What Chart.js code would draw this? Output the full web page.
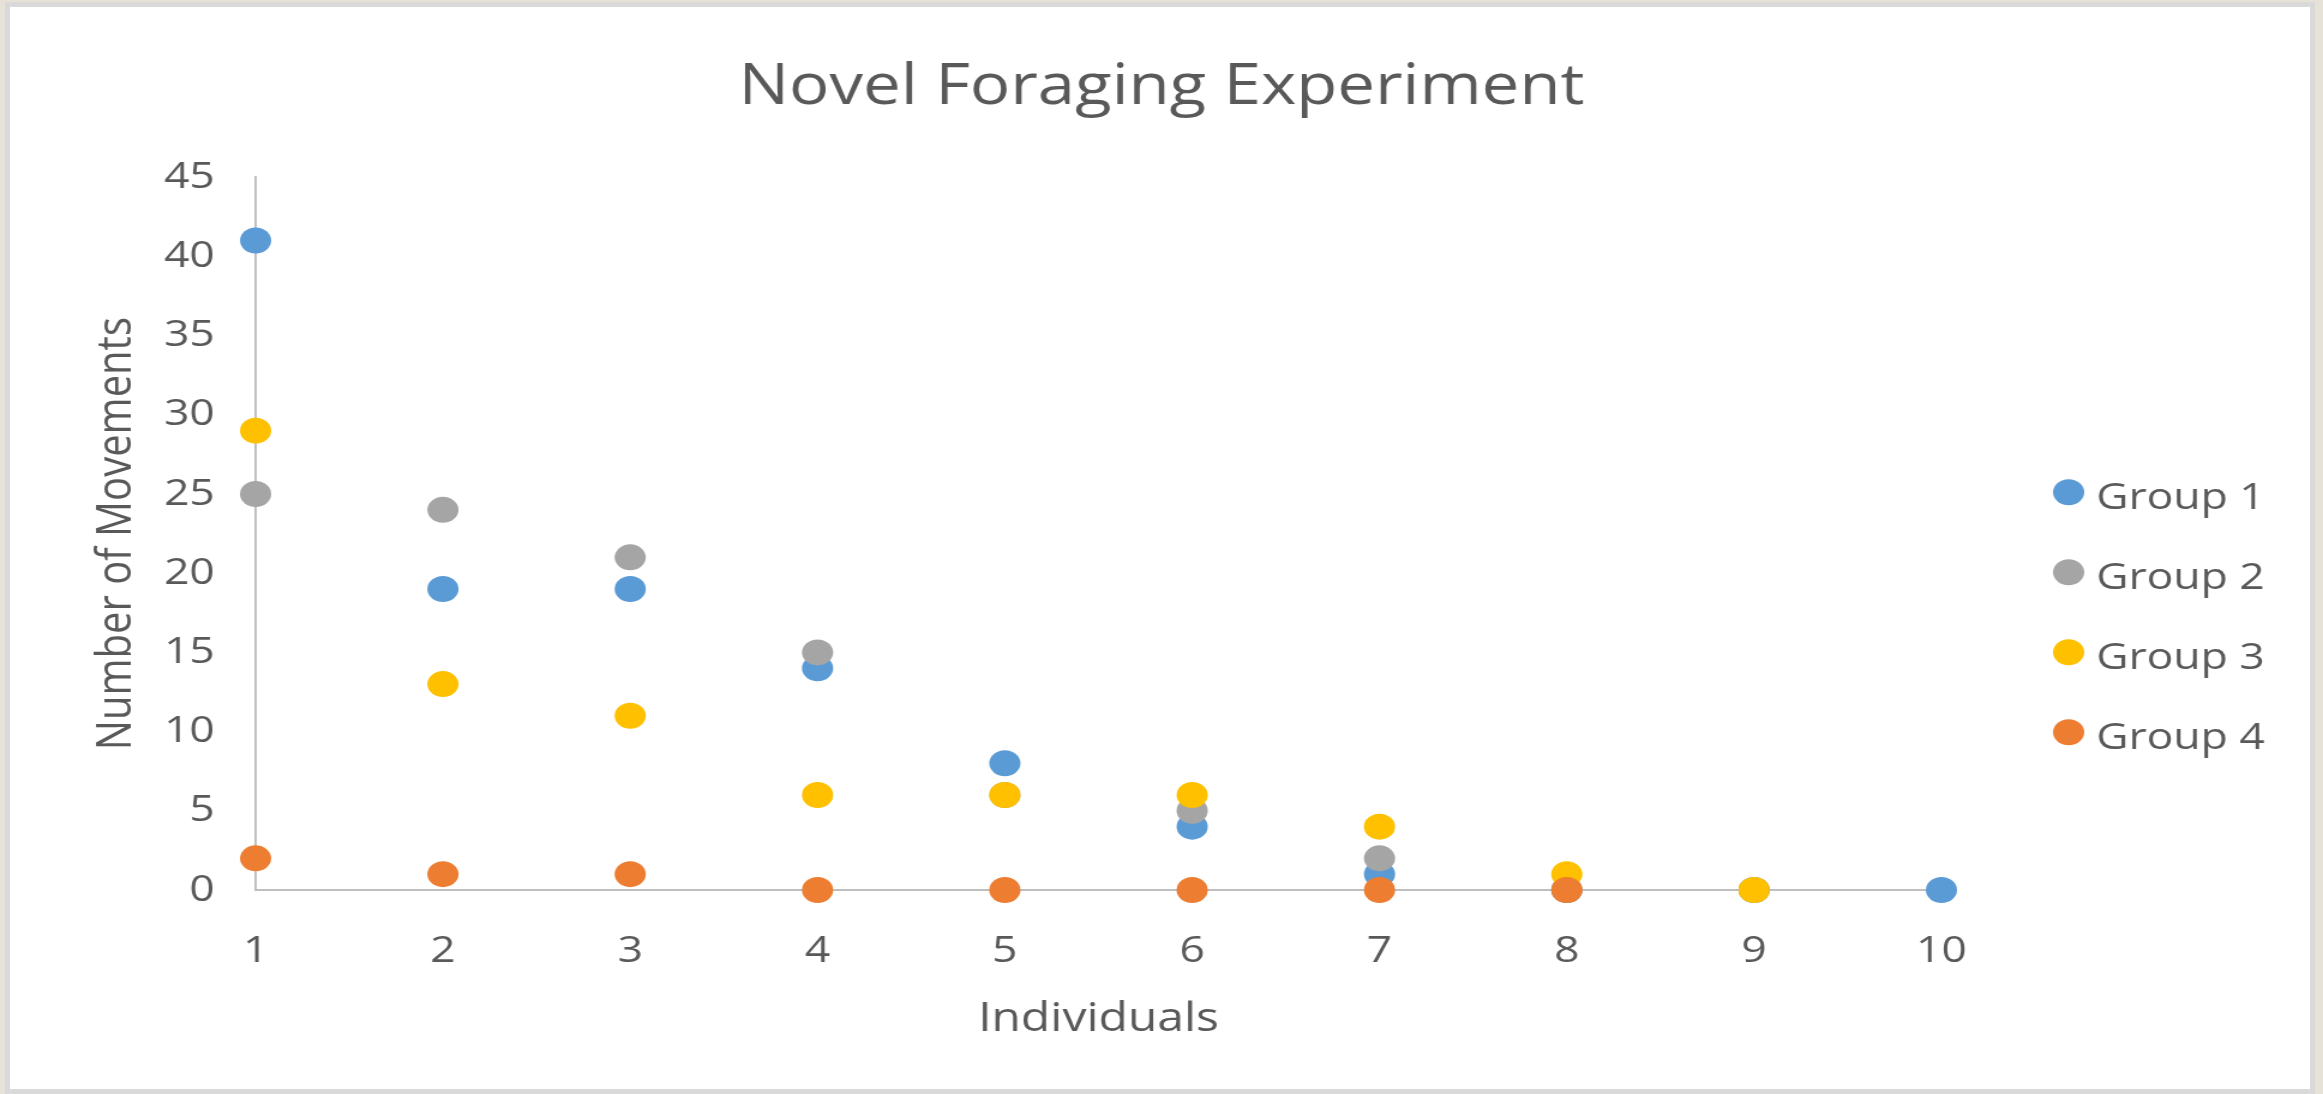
<!DOCTYPE html>
<html lang="en">
<head>
<meta charset="utf-8">
<title>Novel Foraging Experiment</title>
<script src="https://cdn.jsdelivr.net/npm/chart.js@4.4.1/dist/chart.umd.min.js"></script>
<style>
    html, body { margin: 0; padding: 0; width: 2323px; height: 1094px; overflow: hidden; background: #e7e2d7; }
    #marco { position: absolute; left: 5px; top: 2px; width: 2300px; height: 1082px; background: #ffffff; border: 5px solid #d9d9d9; }
    /* el lienzo se estira en horizontal como el gráfico original de Excel */
    #grafico { position: absolute; left: 0; top: 0; }
</style>
</head>
<body>
<div id="marco"></div>
<canvas id="grafico" width="1936" height="1094" style="width:2323px;height:1094px"></canvas>
<script>
// Datos
const individuos = [1, 2, 3, 4, 5, 6, 7, 8, 9, 10];
const grupo1 = [41, 19, 19, 14, 8, 4, 1, 0, 0, 0];
const grupo2 = [25, 24, 21, 15, 6, 5, 2, 0, 0];
const grupo3 = [29, 13, 11, 6, 6, 6, 4, 1, 0];
const grupo4 = [2, 1, 1, 0, 0, 0, 0, 0];
const nombresGrupos = ['Group 1', 'Group 2', 'Group 3', 'Group 4'];
const coloresGrupos = ['#5B9BD5', '#A5A5A5', '#FFC000', '#ED7D31'];
const limitesX = [1, 10];
const limitesY = [0, 45];
const pasoY = 5;

// Configuración global
Chart.defaults.font.family = '"Open Sans", "Noto Sans", sans-serif';
Chart.defaults.color = '#595959';

const series = [grupo1, grupo2, grupo3, grupo4];

const datasets = series.map((valores, i) => ({
    label: nombresGrupos[i],
    data: valores.map((v, j) => ({ x: individuos[j], y: v })),
    backgroundColor: coloresGrupos[i],
    borderWidth: 0,
    pointRadius: 13,
    pointHoverRadius: 13,
    clip: false,
    order: series.length - i   // el último grupo se dibuja encima
}));

/**
 * Leyenda a la derecha del área del gráfico
 */
const leyendaDerecha = {
    id: 'leyendaDerecha',
    afterDraw(chart) {
        const ctx = chart.ctx;
        const area = chart.chartArea;
        const xMarca = area.right + 106;
        const yInicio = area.top + 315;

        ctx.save();
        ctx.font = '37px "Open Sans"';
        ctx.textBaseline = 'middle';
        chart.data.datasets.forEach((ds, i) => {
            const y = yInicio + i * 80;
            ctx.beginPath();
            ctx.fillStyle = ds.backgroundColor;
            ctx.arc(xMarca, y, 13, 0, Math.PI * 2);
            ctx.fill();
            ctx.fillStyle = '#595959';
            ctx.fillText(ds.label, xMarca + 23, y + 6);
        });
        ctx.restore();
    }
};

new Chart(document.getElementById('grafico'), {
    type: 'scatter',
    data: { datasets: datasets },
    options: {
        responsive: false,
        animation: false,
        devicePixelRatio: 1,
        events: [],
        layout: {
            padding: { top: 0, left: 0, right: 0, bottom: 50 }
        },
        plugins: {
            legend: { display: false },
            tooltip: { enabled: false },
            title: {
                display: true,
                text: 'Novel Foraging Experiment',
                color: '#595959',
                font: { size: 56, weight: 'normal' },
                padding: { top: 54, bottom: 56 }
            }
        },
        scales: {
            x: {
                type: 'linear',
                min: limitesX[0],
                max: limitesX[1],
                grid: { display: false, drawTicks: false },
                border: { color: '#bfbfbf', width: 2 },
                ticks: { stepSize: 1, padding: 39, font: { size: 37 }, color: '#595959' },
                title: {
                    display: true,
                    text: 'Individuals',
                    color: '#595959',
                    font: { size: 40 },
                    padding: { top: 0, bottom: 0 }
                },
                afterFit: (escala) => { escala.height = 154; }
            },
            y: {
                min: limitesY[0],
                max: limitesY[1],
                grid: { display: false, drawTicks: false },
                border: { color: '#bfbfbf', width: 2 },
                ticks: { stepSize: pasoY, padding: 34, font: { size: 37 }, color: '#595959' },
                title: {
                    display: true,
                    text: 'Number of Movements',
                    color: '#595959',
                    font: { size: 40 },
                    padding: { top: 74, bottom: 0 }
                },
                afterFit: (escala) => { escala.width = 213; }
            },
            // espacio reservado para la leyenda
            margen: {
                position: 'right',
                display: true,
                grid: { display: false, drawTicks: false },
                border: { display: false },
                ticks: { display: false },
                afterFit: (escala) => { escala.width = 318; }
            }
        }
    },
    plugins: [leyendaDerecha]
});
</script>
</body>
</html>
